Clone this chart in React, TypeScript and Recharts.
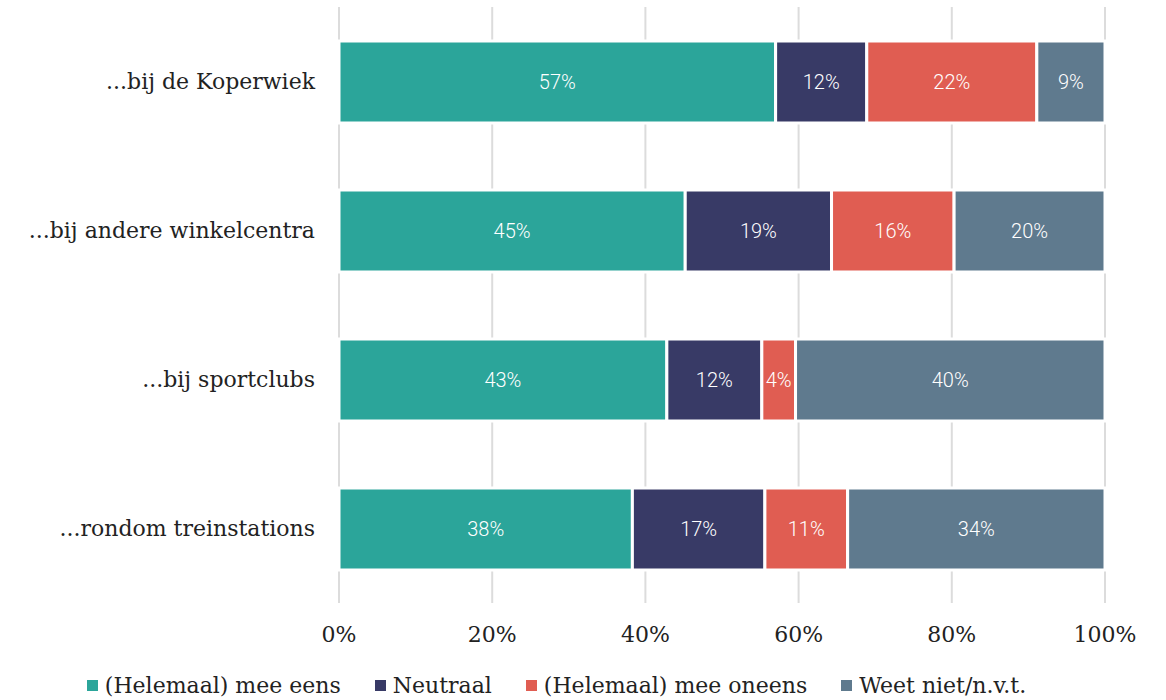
import { BarChart, Bar, XAxis, YAxis, CartesianGrid, Legend, LabelList } from 'recharts';

const categories = ['...bij de Koperwiek', '...bij andere winkelcentra', '...bij sportclubs', '...rondom treinstations'];
const eens = [57.0, 45.2, 42.8, 38.3];
const neutraal = [11.9, 19.1, 12.4, 17.3];
const oneens = [22.2, 16.0, 4.4, 10.8];
const weetNiet = [8.9, 19.7, 40.4, 33.6];
const xTicks = [0, 20, 40, 60, 80, 100];

const seriesNames = ['(Helemaal) mee eens', 'Neutraal', '(Helemaal) mee oneens', 'Weet niet/n.v.t.'];
const colors = ['#2ba59a', '#383a66', '#e05d52', '#5f7a8e'];

const data = categories.map((name, i) => ({
  name,
  eens: eens[i],
  neutraal: neutraal[i],
  oneens: oneens[i],
  weetNiet: weetNiet[i],
}));

const keys = ['eens', 'neutraal', 'oneens', 'weetNiet'];
const serif = '"DejaVu Serif", serif';

const renderLegend = () => (
  <div style={{ display: 'flex', justifyContent: 'center', gap: 34, fontFamily: serif, fontSize: 22, color: '#222', paddingLeft: 8 }}>
    {seriesNames.map((n, i) => (
      <div key={n} style={{ display: 'flex', alignItems: 'center' }}>
        <span style={{ width: 11, height: 11, background: colors[i], marginRight: 7, display: 'inline-block' }} />
        {n}
      </div>
    ))}
  </div>
);

export default function App() {
  return (
    <div style={{ position: 'absolute', left: 0, top: 0, background: '#fff' }}>
      <BarChart
        width={1166}
        height={700}
        data={data}
        layout="vertical"
        margin={{ top: 7, right: 61, bottom: 16, left: 0 }}
        barCategoryGap={0}
      >
        <CartesianGrid horizontal={false} stroke="#dcdcdc" strokeWidth={2} />
        <XAxis
          type="number"
          domain={[0, 100]}
          ticks={xTicks}
          tickFormatter={(v) => `${v}%`}
          axisLine={false}
          tickLine={false}
          tickMargin={17}
          height={56}
          tick={{ fontFamily: serif, fontSize: 22, fill: '#222' }}
        />
        <YAxis
          type="category"
          dataKey="name"
          width={339}
          axisLine={false}
          tickLine={false}
          tickMargin={18}
          tick={{ fontFamily: serif, fontSize: 22, fill: '#222' }}
        />
        <Legend verticalAlign="bottom" content={renderLegend} wrapperStyle={{ bottom: 2 }} />
        {keys.map((k, i) => (
          <Bar
            key={k}
            dataKey={k}
            name={seriesNames[i]}
            stackId="a"
            fill={colors[i]}
            stroke="#fff"
            strokeWidth={3}
            barSize={82}
            isAnimationActive={false}
          >
            <LabelList
              dataKey={k}
              position="center"
              formatter={(v: any) => `${Math.round(Number(v))}%`}
              fill="#fff"
              style={{ fontFamily: 'Roboto, sans-serif', fontSize: 20, fontWeight: 300 }}
            />
          </Bar>
        ))}
      </BarChart>
    </div>
  );
}
